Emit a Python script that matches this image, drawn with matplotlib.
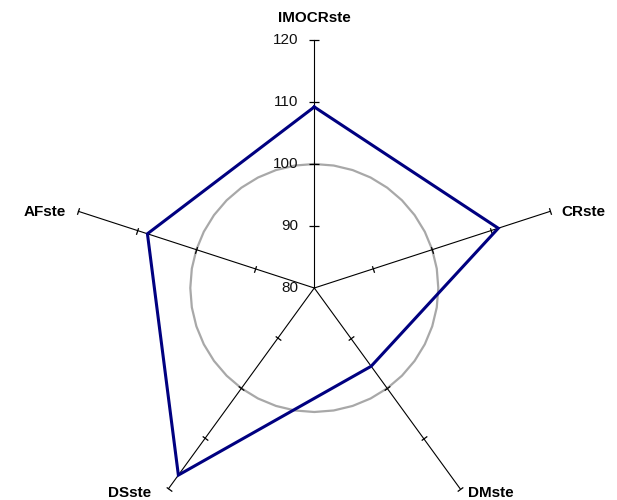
import numpy as np
import matplotlib
matplotlib.use("Agg")
import matplotlib.pyplot as plt

categories = ["IMOCRste", "CRste", "DMste", "DSste", "AFste"]
series_values = [109.2, 111.2, 95.6, 117.3, 108.3]
reference_level = 100
radial_ticks = [80, 90, 100, 110, 120]
radial_tick_labels = ["80", "90", "100", "110", "120"]

W, H = 617, 500
fig = plt.figure(figsize=(W / 100, H / 100), dpi=100)
cx, cy, R = 314.3, 288.0, 248.0
ax = fig.add_axes([(cx - R) / W, (H - cy - R) / H, 2 * R / W, 2 * R / H], projection="polar")
ax.set_theta_zero_location("N")
ax.set_theta_direction(-1)
ax.set_ylim(radial_ticks[0], radial_ticks[-1])
ax.axis("off")

n = len(categories)
angles = np.arange(n) * 2 * np.pi / n

# reference circle
th = np.linspace(0, 2 * np.pi, 41)
ax.plot(th, np.full_like(th, reference_level), color="#a8a8a8", lw=1.6, clip_on=False, zorder=2)

# spokes and ticks
for i, a in enumerate(angles):
    ax.plot([a, a], [radial_ticks[0], radial_ticks[-1]], color="black", lw=0.8, clip_on=False, zorder=3)
    rot = 90 - np.degrees(a)
    ms = 7 if i == 0 else 5
    ax.plot([a] * (len(radial_ticks) - 1), radial_ticks[1:], linestyle="none",
            marker=(2, 0, rot), markersize=ms, markeredgewidth=0.9, color="black",
            clip_on=False, zorder=3)

# series
vals = series_values + series_values[:1]
angs = list(angles) + [angles[0]]
ax.plot(angs, vals, color="#000080", lw=2.2, clip_on=False, zorder=4, solid_joinstyle="miter")

# radial labels
for v, lab in zip(radial_ticks, radial_tick_labels):
    r_px = (v - radial_ticks[0]) / (radial_ticks[-1] - radial_ticks[0]) * R
    fig.text((cx - 16) / W, (H - (cy - r_px)) / H, lab, ha="right", va="center",
             fontsize=11, family="Liberation Sans", color="#111111")

# category labels
lab_pos = [(314, 18, "center", "center"), (561, 212, "left", "center"),
           (468, 493, "left", "center"), (130, 493, "center", "center"),
           (66, 212, "right", "center")]
for c, (x, y, ha, va) in zip(categories, lab_pos):
    fig.text(x / W, (H - y) / H, c, ha=ha, va=va, fontsize=11, fontweight="bold",
             family="Liberation Sans")

fig.savefig("out.png", dpi=100)
